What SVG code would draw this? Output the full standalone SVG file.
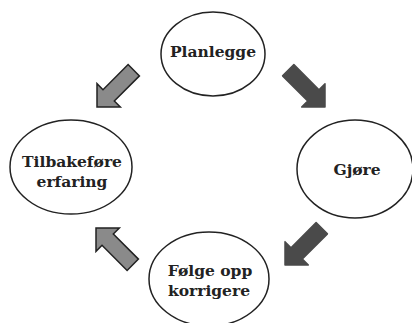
<svg xmlns="http://www.w3.org/2000/svg" width="412" height="323" viewBox="0 0 412 323">
<defs>
<style>
.node ellipse{fill:#fff;stroke:#222;stroke-width:1.5}
.node text{font-family:"DejaVu Serif","Liberation Serif",serif;font-weight:bold;font-size:15.5px;fill:#222;text-anchor:middle}
.light{fill:#8a8a8a;stroke:#222;stroke-width:1.5;stroke-linejoin:miter}
.dark{fill:#4a4a4a;stroke:#4a4a4a;stroke-width:1.5;stroke-linejoin:round}
</style>
<path id="arrow" d="M0,0 L-16.5,-16.5 L-16.5,-8 L-52,-8 L-52,8 L-16.5,8 L-16.5,16.5 Z"/>
</defs>
<rect width="412" height="323" fill="#fff"/>
<g id="connectors">
<use href="#arrow" class="light" transform="translate(97,107) rotate(135)"/>
<use href="#arrow" class="dark" transform="translate(325,107) rotate(45)"/>
<use href="#arrow" class="dark" transform="translate(285,265) rotate(135)"/>
<use href="#arrow" class="light" transform="translate(96,228) rotate(225)"/>
</g>
<g id="planlegge" class="node">
<ellipse cx="213" cy="54" rx="52" ry="42"/>
<text x="213" y="57">Planlegge</text>
</g>
<g id="gjore" class="node">
<ellipse cx="355" cy="169" rx="58" ry="49"/>
<text x="357" y="175">Gjøre</text>
</g>
<g id="tilbakefore" class="node">
<ellipse cx="71" cy="167" rx="61" ry="47"/>
<text x="72" y="167">Tilbakeføre</text>
<text x="72" y="187">erfaring</text>
</g>
<g id="folge" class="node">
<ellipse cx="209" cy="279" rx="60" ry="47"/>
<text x="210" y="276">Følge opp</text>
<text x="209" y="296">korrigere</text>
</g>
</svg>
